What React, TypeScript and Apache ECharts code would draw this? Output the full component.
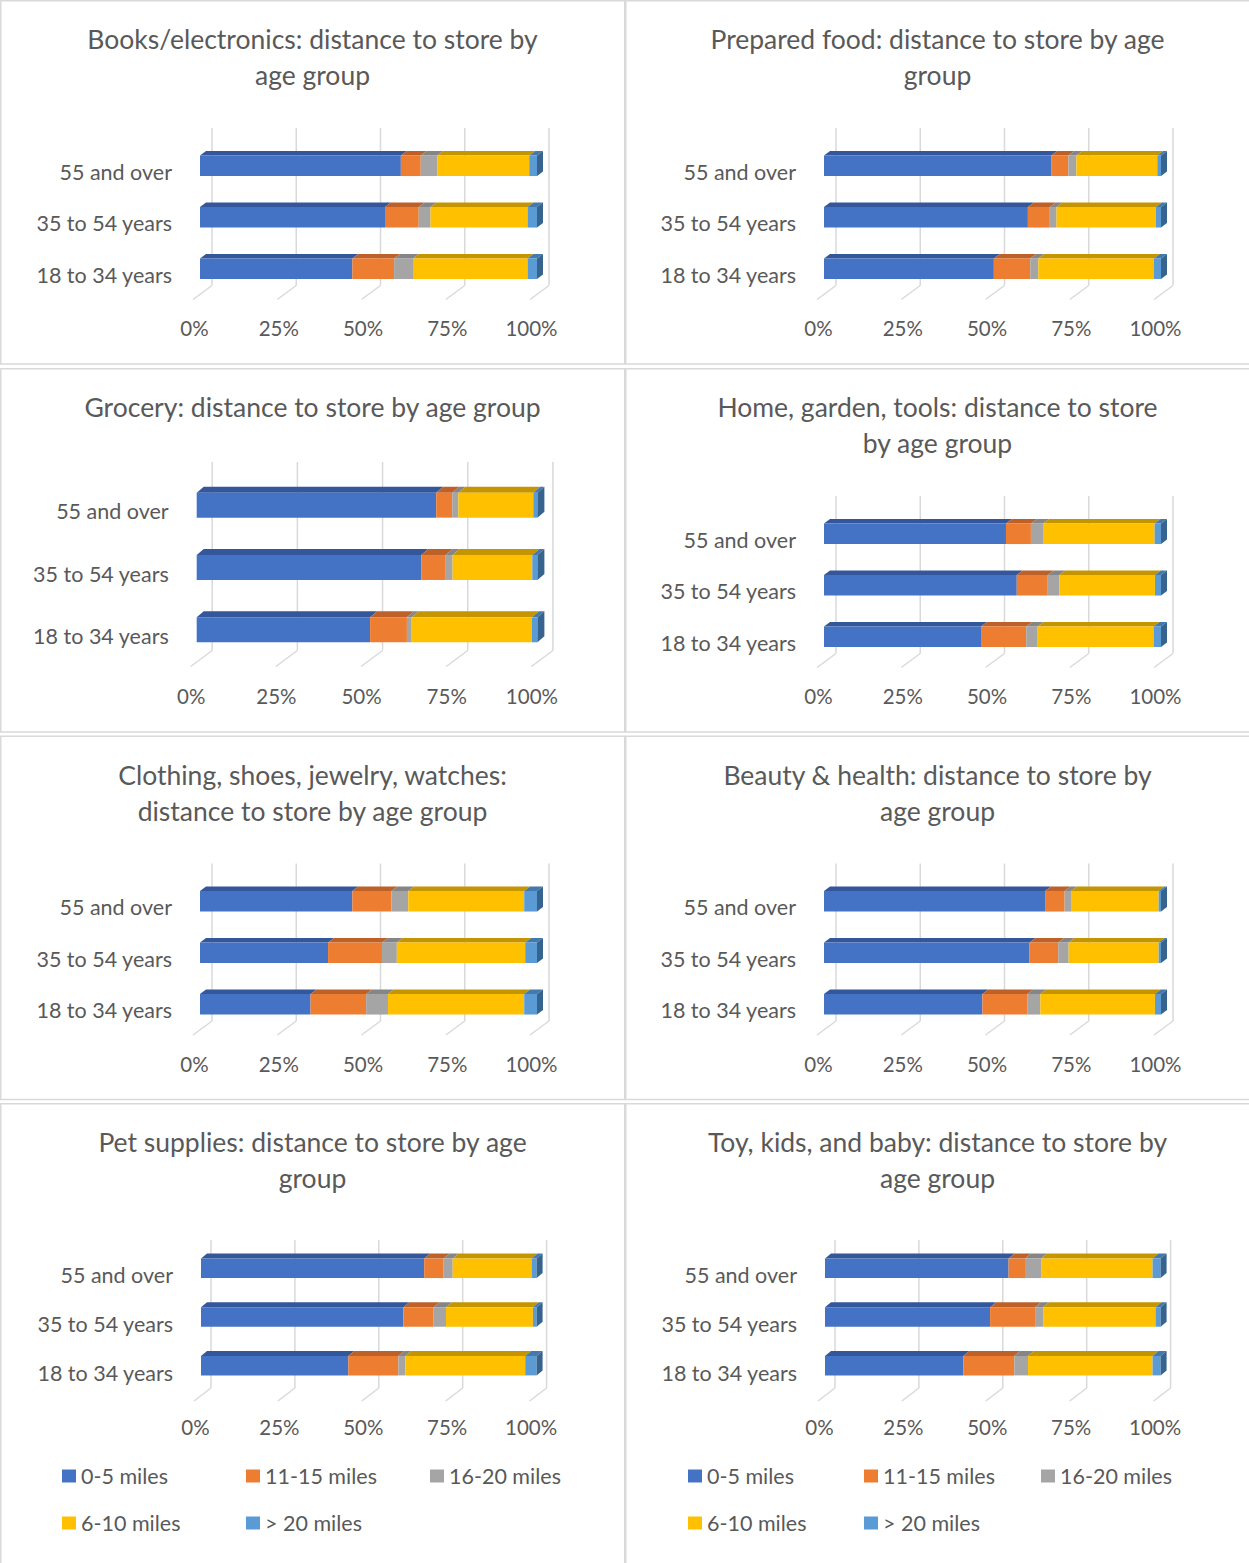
import { useEffect, useRef } from 'react';
import * as echarts from 'echarts';

const AGE_GROUPS = ['18 to 34 years', '35 to 54 years', '55 and over'];
const DISTANCE_BANDS = ['0-5 miles', '11-15 miles', '16-20 miles', '6-10 miles', '> 20 miles'];
const PERCENT_TICKS = [0, 25, 50, 75, 100];

// Share of shoppers (%). Rows follow DISTANCE_BANDS, columns follow AGE_GROUPS.
const booksElectronics = [
  [45.2, 54.9, 59.6],
  [12.4, 10.0, 5.9],
  [5.6, 3.5, 4.9],
  [34.0, 28.8, 27.3],
  [2.8, 2.8, 2.3],
];
const preparedFood = [
  [50.4, 60.5, 67.4],
  [10.8, 6.5, 5.1],
  [2.4, 2.0, 2.4],
  [34.3, 29.5, 24.0],
  [2.1, 1.5, 1.1],
];
const grocery = [
  [50.9, 65.9, 70.3],
  [10.8, 7.2, 4.7],
  [1.4, 2.0, 1.8],
  [35.3, 23.4, 22.0],
  [1.6, 1.5, 1.2],
];
const homeGardenTools = [
  [46.6, 57.2, 54.0],
  [13.4, 9.2, 7.4],
  [3.4, 3.4, 3.6],
  [34.4, 28.4, 33.1],
  [2.2, 1.8, 1.9],
];
const clothingShoes = [
  [32.8, 38.0, 45.2],
  [16.5, 16.0, 11.6],
  [6.5, 4.4, 5.0],
  [40.4, 38.1, 34.4],
  [3.8, 3.5, 3.8],
];
const beautyHealth = [
  [47.0, 61.0, 65.6],
  [13.3, 8.5, 5.8],
  [3.9, 3.1, 1.9],
  [34.0, 26.7, 26.0],
  [1.8, 0.7, 0.7],
];
const petSupplies = [
  [43.9, 60.3, 66.5],
  [14.9, 9.0, 5.8],
  [2.1, 3.7, 2.7],
  [35.7, 25.9, 23.5],
  [3.4, 1.1, 1.5],
];
const toyKidsBaby = [
  [41.2, 49.2, 54.7],
  [15.2, 13.4, 4.9],
  [4.1, 2.4, 4.8],
  [37.1, 33.5, 33.2],
  [2.4, 1.5, 2.4],
];

const PANEL_TITLES = [
  'Books/electronics: distance to store by\nage group',
  'Prepared food: distance to store by age\ngroup',
  'Grocery: distance to store by age group',
  'Home, garden, tools: distance to store\nby age group',
  'Clothing, shoes, jewelry, watches:\ndistance to store by age group',
  'Beauty & health: distance to store by\nage group',
  'Pet supplies: distance to store by age\ngroup',
  'Toy, kids, and baby: distance to store by\nage group',
];
const PANEL_DATA = [
  booksElectronics,
  preparedFood,
  grocery,
  homeGardenTools,
  clothingShoes,
  beautyHealth,
  petSupplies,
  toyKidsBaby,
];

// Styling
const FRONT_COLORS = ['#4472C4', '#ED7D31', '#A5A5A5', '#FFC000', '#5B9BD5'];
const TOP_COLORS = ['#34569A', '#BE6129', '#858585', '#C59500', '#4479AB'];
const END_SIDE_COLOR = '#37648E';
const TEXT_COLOR = '#595959';
const LINE_COLOR = '#D9D9D9';
const FONT = 'Lato, "Open Sans", sans-serif';
const TITLE_SIZE = 26.5;
const LABEL_SIZE = 21.5;
const TICK_SIZE = 20.5;

const WIDTH = 1249;
const HEIGHT = 1563;
const COL_X = [0, 625];
const ROW_Y = [0, 368, 735.5, 1103];
const PANEL_W = 624;

type Layout = {
  left: number; top: number; width: number; height: number;
  dx: number; dy: number;
  backDx: number; frontDx: number; wallTop: number; floorBack: number; floorFront: number;
  xLabelMargin: number; yLabelShift: number;
};

const STANDARD: Layout = {
  left: 200, top: 140, width: 337, height: 154.5,
  dx: 6, dy: 4.5,
  backDx: 12, frontDx: -7, wallTop: -12, floorBack: -9, floorFront: 5,
  xLabelMargin: 23.5, yLabelShift: 6,
};
const GROCERY_LAYOUT: Layout = {
  left: 196.7, top: 106, width: 340.7, height: 187,
  dx: 7, dy: 6,
  backDx: 15.5, frontDx: -6, wallTop: -12, floorBack: -10.5, floorFront: 5.5,
  xLabelMargin: 25, yLabelShift: 6,
};
const LEGEND_ROW: Layout = {
  left: 201, top: 141, width: 335.6, height: 146,
  dx: 6, dy: 5,
  backDx: 10, frontDx: -7, wallTop: -4, floorBack: -2, floorFront: 11,
  xLabelMargin: 27, yLabelShift: 7,
};

const PANEL_LAYOUTS: Layout[] = [
  STANDARD,
  { ...STANDARD, left: 199 },
  GROCERY_LAYOUT,
  { ...STANDARD, left: 199 },
  STANDARD,
  { ...STANDARD, left: 199 },
  LEGEND_ROW,
  { ...LEGEND_ROW, left: 200 },
];

// Legend slots of the two bottom panels: [x, y] of each swatch, in DISTANCE_BANDS order
const LEGEND_SLOTS = [
  [[62, 1476], [246, 1476], [430, 1476], [62, 1523], [246, 1523]],
  [[688, 1476], [864, 1476], [1041, 1476], [688, 1523], [864, 1523]],
];

function buildOption() {
  const grid: any[] = [];
  const xAxis: any[] = [];
  const yAxis: any[] = [];
  const series: any[] = [];
  const title: any[] = [];
  const graphic: any[] = [];

  PANEL_DATA.forEach((table, p) => {
    const col = p % 2;
    const row = Math.floor(p / 2);
    const ox = COL_X[col];
    const oy = ROW_Y[row];
    const L = PANEL_LAYOUTS[p];

    // panel border
    const bottom = row === 3 ? HEIGHT + 10 : oy + 364;
    graphic.push({
      type: 'rect',
      silent: true,
      z: 0,
      shape: { x: ox + 0.75, y: oy + 0.75, width: PANEL_W, height: bottom - oy - 0.75 },
      style: { fill: 'none', stroke: LINE_COLOR, lineWidth: 1.5 },
    });

    title.push({
      text: PANEL_TITLES[p],
      left: ox + 312.5,
      top: oy + 21,
      textAlign: 'center',
      padding: 0,
      textStyle: {
        color: TEXT_COLOR,
        fontFamily: FONT,
        fontWeight: 'normal',
        fontSize: TITLE_SIZE,
        lineHeight: 36,
      },
    });

    grid.push({ left: ox + L.left, top: oy + L.top, width: L.width, height: L.height });
    xAxis.push({
      type: 'value',
      gridIndex: p,
      min: 0,
      max: 100,
      interval: 25,
      axisLine: { show: false },
      axisTick: { show: false },
      splitLine: { show: false },
      axisLabel: {
        formatter: '{value}%',
        color: TEXT_COLOR,
        fontFamily: FONT,
        fontSize: TICK_SIZE,
        lineHeight: 20,
        margin: L.xLabelMargin,
        padding: [0, 11, 0, 0],
      },
    });
    yAxis.push({
      type: 'category',
      gridIndex: p,
      data: AGE_GROUPS,
      axisLine: { show: false },
      axisTick: { show: false },
      splitLine: { show: false },
      axisLabel: {
        color: TEXT_COLOR,
        fontFamily: FONT,
        fontSize: LABEL_SIZE,
        margin: 28,
        verticalAlign: 'top',
        lineHeight: L.yLabelShift * 2,
      },
    });

    // back wall gridlines and floor marks
    series.push({
      type: 'custom',
      name: 'frame' + p,
      xAxisIndex: p,
      yAxisIndex: p,
      z: 1,
      silent: true,
      encode: { x: 0, y: 1 },
      data: PERCENT_TICKS.map((t) => [t, 0]),
      renderItem: (params: any, api: any) => {
        const cs = params.coordSys;
        const pt = api.coord([api.value(0), 0]);
        const bx = pt[0] + L.backDx;
        const gb = cs.y + cs.height;
        const style = { stroke: LINE_COLOR, lineWidth: 1.5, fill: 'none' };
        return {
          type: 'group',
          children: [
            { type: 'line', shape: { x1: bx, y1: cs.y + L.wallTop, x2: bx, y2: gb + L.floorBack }, style },
            { type: 'line', shape: { x1: bx, y1: gb + L.floorBack, x2: pt[0] + L.frontDx, y2: gb + L.floorFront }, style },
          ],
        };
      },
    });

    // stacked 3D-look bars
    const cumulative = AGE_GROUPS.map(() => 0);
    table.forEach((values, s) => {
      const segs = values.map((v, c) => {
        const start = cumulative[c];
        cumulative[c] += v;
        return [start, start + v, c];
      });
      const isLast = s === table.length - 1;
      series.push({
        type: 'custom',
        name: DISTANCE_BANDS[s],
        xAxisIndex: p,
        yAxisIndex: p,
        z: 2 + s,
        itemStyle: { color: FRONT_COLORS[s] },
        encode: { x: [0, 1], y: 2 },
        data: segs,
        renderItem: (params: any, api: any) => {
          const c = api.value(2);
          const a = api.coord([api.value(0), c]);
          const b = api.coord([api.value(1), c]);
          const band = api.size([0, 1])[1];
          const h = band * 0.4;
          const top = a[1] - h / 2;
          const dx = L.dx;
          const dy = L.dy;
          const children: any[] = [
            {
              type: 'polygon',
              shape: { points: [[a[0], top], [b[0], top], [b[0] + dx, top - dy], [a[0] + dx, top - dy]] },
              style: { fill: TOP_COLORS[s] },
            },
            {
              type: 'rect',
              shape: { x: a[0], y: top, width: b[0] - a[0], height: h },
              style: { fill: FRONT_COLORS[s] },
            },
          ];
          if (isLast) {
            children.push({
              type: 'polygon',
              shape: { points: [[b[0], top], [b[0] + dx, top - dy], [b[0] + dx, top + h - dy], [b[0], top + h]] },
              style: { fill: END_SIDE_COLOR },
            });
          }
          return { type: 'group', children };
        },
      });
    });
  });

  const legend: any[] = [];
  LEGEND_SLOTS.forEach((slots) => {
    slots.forEach(([x, y], s) => {
      legend.push({
        data: [DISTANCE_BANDS[s]],
        left: x,
        top: y - 11,
        padding: 0,
        itemWidth: 14,
        itemHeight: 13,
        icon: 'rect',
        selectedMode: false,
        textStyle: { color: TEXT_COLOR, fontFamily: FONT, fontSize: LABEL_SIZE, lineHeight: 22 },
      });
    });
  });

  return {
    animation: false,
    backgroundColor: '#FFFFFF',
    title,
    legend,
    grid,
    xAxis,
    yAxis,
    series,
    graphic,
  };
}

export default function App() {
  const ref = useRef<HTMLDivElement>(null);
  useEffect(() => {
    if (!ref.current) return;
    const chart = echarts.init(ref.current, null, { renderer: 'svg' });
    chart.setOption(buildOption());
    return () => chart.dispose();
  }, []);
  return (
    <div
      ref={ref}
      style={{ position: 'absolute', left: 0, top: 0, width: WIDTH, height: HEIGHT, background: '#FFFFFF' }}
    />
  );
}
